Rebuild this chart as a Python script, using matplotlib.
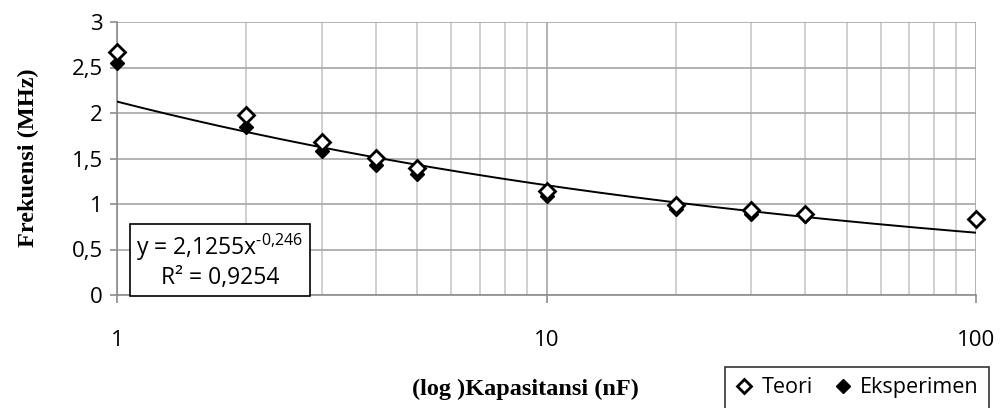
import matplotlib
matplotlib.use("Agg")
import matplotlib.pyplot as plt
import numpy as np
from matplotlib.ticker import FixedLocator, FuncFormatter, NullFormatter
from matplotlib.lines import Line2D

kapasitansi = [1, 2, 3, 4, 5, 10, 20, 30, 40, 100]
teori = [2.67, 1.98, 1.68, 1.51, 1.40, 1.14, 0.99, 0.93, 0.89, 0.84]
eksperimen = [2.55, 1.85, 1.58, 1.43, 1.33, 1.09, 0.95, 0.89, 0.87, 0.84]
fit_a = 2.1255
fit_b = -0.246
fit_r2 = 0.9254
y_ticks = [0, 0.5, 1, 1.5, 2, 2.5, 3]
x_ticks = [1, 10, 100]

tick_font = "Open Sans"
serif = "Liberation Serif"
plt.rcParams["mathtext.fontset"] = "custom"
plt.rcParams["mathtext.rm"] = tick_font
plt.rcParams["mathtext.it"] = tick_font

W, H = 1006, 408
fig = plt.figure(figsize=(W / 100, H / 100), dpi=100)
ax = fig.add_axes([117 / W, 1 - 295 / H, (976 - 117) / W, (295 - 22) / H])

ax.set_xscale("log")
ax.set_xlim(1, 100)
ax.set_ylim(0, 3)

minor = [m * d for d in (1, 10) for m in range(2, 10)]
ax.xaxis.set_major_locator(FixedLocator(x_ticks))
ax.xaxis.set_minor_locator(FixedLocator(minor))
ax.xaxis.set_minor_formatter(NullFormatter())
ax.set_xticks(x_ticks)
ax.set_xticklabels([str(v) for v in x_ticks])
ax.set_yticks(y_ticks)
ax.yaxis.set_major_formatter(FuncFormatter(lambda v, p: ("%g" % v).replace(".", ",")))
ax.grid(True, which="major", axis="both", color="#a6a6a6", linewidth=1.2)
ax.grid(True, which="minor", axis="x", color="#c8c8c8", linewidth=1.2)
ax.set_axisbelow(True)

for s in ["top", "right"]:
    ax.spines[s].set_visible(False)
for s in ["left", "bottom"]:
    ax.spines[s].set_color("#8c8c8c")
    ax.spines[s].set_linewidth(1.2)

ax.tick_params(axis="x", which="major", length=6, width=1.2, color="#8c8c8c", pad=19,
               labelsize=16)
ax.tick_params(axis="x", which="minor", length=0)
ax.tick_params(axis="y", which="major", length=5, width=1.2, color="#8c8c8c", pad=5,
               labelsize=16)
for lab in ax.get_xticklabels() + ax.get_yticklabels():
    lab.set_fontfamily(tick_font)

# trendline
xf = np.logspace(0, 2, 200)
ax.plot(xf, fit_a * xf ** fit_b, color="black", linewidth=1.4, zorder=3)

# data
ax.plot(kapasitansi, eksperimen, linestyle="none", marker="D", markersize=7.5,
        color="black", zorder=4, clip_on=False)
ax.plot(kapasitansi, teori, linestyle="none", marker="D", markersize=8.5,
        markerfacecolor="white", markeredgecolor="black", markeredgewidth=2.0,
        zorder=5, clip_on=False)

# labels
fig.text(28 / W, 1 - 158 / H, "Frekuensi (MHz)", rotation=90, ha="center", va="center",
         fontsize=17.5, fontweight="bold", family=serif)
fig.text(525 / W, 1 - 389 / H, "(log )Kapasitansi (nF)", ha="center", va="center",
         fontsize=17.5, fontweight="bold", family=serif)

# equation box
eq = "y = 2,1255x$^{\\text{-0,246}}$\nR² = 0,9254"
fig.text(220 / W, 1 - 261 / H, eq, ha="center", va="center", fontsize=16.5,
         family=tick_font, linespacing=1.15, zorder=10,
         bbox=dict(boxstyle="square,pad=0.28", facecolor="white", edgecolor="black",
                   linewidth=1.2))

# legend
handles = [
    Line2D([], [], linestyle="none", marker="D", markersize=7, markerfacecolor="white",
           markeredgecolor="black", markeredgewidth=2.0),
    Line2D([], [], linestyle="none", marker="D", markersize=7, color="black"),
]
leg = fig.legend(handles, ["Teori", "Eksperimen"], loc="lower left",
                 bbox_to_anchor=(714 / W, -12 / H), ncol=2, frameon=True, fancybox=False,
                 prop={"family": tick_font, "size": 15.5}, handlelength=0.8,
                 handletextpad=0.4, columnspacing=1.0, borderpad=0.5)
leg.get_frame().set_edgecolor("black")
leg.get_frame().set_linewidth(1.2)

fig.savefig("out.png", dpi=100)
